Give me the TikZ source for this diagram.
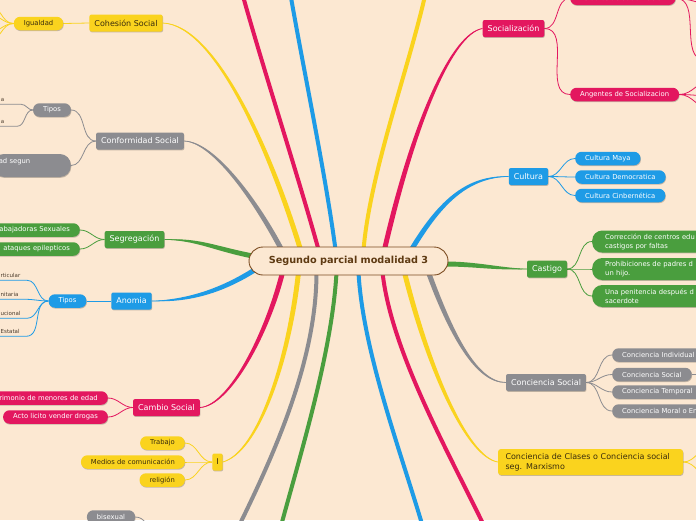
\documentclass[tikz,border=0pt]{standalone}
\usepackage{fontspec}
\setmainfont{DejaVu Sans}
\usetikzlibrary{calc,shadows}
\definecolor{papel}{HTML}{FCE8D2}
\definecolor{amarillo}{HTML}{FAD31E}
\definecolor{rosa}{HTML}{E3175F}
\definecolor{azul}{HTML}{1E9BE6}
\definecolor{verde}{HTML}{4A9E3E}
\definecolor{gris}{HTML}{8C8C90}
\definecolor{cafe}{HTML}{5E3A12}
\definecolor{borde}{HTML}{7C4C22}
\definecolor{oscuro}{HTML}{3A2D0C}
\definecolor{tinta}{HTML}{4A3B2C}
\pgfdeclarelayer{fondo}
\pgfsetlayers{fondo,main}
\tikzset{raiz/.style={draw=borde,line width=.9pt,fill=papel,text=cafe,rounded corners=14pt,
           minimum width=199pt,minimum height=28pt,font=\bfseries\fontsize{9.7}{11}\selectfont},
         sombra/.style={drop shadow={shadow xshift=.5pt,shadow yshift=-.9pt,opacity=.22,fill=black}},
         tema/.style={fill=#1,text=white,rounded corners=2pt,minimum height=17pt,inner xsep=5pt,
           inner ysep=0pt,font=\fontsize{8}{9.6}\selectfont,sombra},
         sub/.style={fill=#1,text=white,rounded corners=6.5pt,minimum height=13.5pt,inner xsep=10pt,
           inner ysep=0pt,font=\fontsize{6.8}{8.2}\selectfont,sombra},
         pena/.style={sub=verde,anchor=west,rounded corners=10pt,minimum height=22pt,text width=110pt,
           align=left,inner xsep=13pt,font=\fontsize{6.8}{9}\selectfont},
         nota/.style={text=tinta,inner xsep=.5pt,inner ysep=2.5pt,font=\fontsize{5.5}{6.6}\selectfont},
         enlace/.style={draw=#1,line width=.8pt},
         troncal/.style={draw=#1,line width=4pt}}
% rama ahusada: color, inicio, control 1 (rel.), control 2 (rel.), fin
\newcommand\rama[5]{%
  \coordinate (r1) at ($(#2)+(#3)$);
  \coordinate (r2) at ($(#5)+(#4)$);
  \fill[#1] ($(#2)!2.5pt!90:(r1)$) .. controls ($(r1)!2.5pt!90:(r2)$) and ($(r2)!1.8pt!90:(#5)$) .. (#5)
    .. controls ($(r2)!1.8pt!-90:(#5)$) and ($(r1)!2.5pt!-90:(r2)$) .. ($(#2)!2.5pt!-90:(r1)$) -- cycle;
  \draw[#1,line width=.8pt] (#2) .. controls (r1) and (r2) .. (#5);}

\begin{document}
\begin{tikzpicture}[x=1pt,y=-1pt]
  \useasboundingbox (0,0) rectangle (696,520);
  \node[raiz] (centro) at (348.5,261) {Segundo parcial modalidad 3};

  % izquierda
  \node[tema=amarillo,text=oscuro] (coh) at (126,23) {Cohesión Social};
  \node[sub=amarillo,text=oscuro] (igual) at (38.5,23.5) {Igualdad};
  \node[tema=gris] (conf) at (140,141) {Conformidad Social};
  \node[sub=gris] (tipos1) at (52,110) {Tipos};
  \node[nota,anchor=base west] (ga) at (0.3,101.5) {a};
  \node[nota,anchor=base west] (gb) at (0.3,123.5) {a};
  \node[sub=gris,anchor=east,rounded corners=11pt,minimum height=23pt,text width=66pt,align=left,
        inner xsep=6pt] (segun) at (71,165.5) {ad segun\\\mbox{}};
  \node[tema=verde] (seg) at (134.5,239.5) {Segregación};
  \node[sub=verde,anchor=east,text width=80pt,align=right] (trab) at (80,230) {abajadoras Sexuales};
  \node[sub=verde,anchor=east,text width=80pt,align=right] (epil) at (80,249) {ataques epilepticos};
  \node[tema=azul] (anomia) at (131.5,301) {Anomia};
  \node[sub=azul] (tipos2) at (67.5,301) {Tipos};
  \node[nota,anchor=base west] (pa) at (0,277.5) {rticular};
  \node[nota,anchor=base west] (pb) at (0,296.5) {nitaria};
  \node[nota,anchor=base west] (pc) at (0,315.5) {ucional};
  \node[nota,anchor=base west] (pd) at (0,333.5) {Estatal};
  \node[tema=rosa] (cambio) at (166.5,407.5) {Cambio Social};
  \node[sub=rosa,anchor=east,text width=110pt,align=right] (matri) at (108,398) {rimonio de menores de edad};
  \node[sub=rosa] (acto) at (55.5,417) {Acto licito vender drogas};
  \node[tema=amarillo,text=oscuro,inner xsep=4pt] (ii) at (217.5,462) {I};
  \node[sub=amarillo,text=oscuro,anchor=east] (trabajo) at (185,443) {Trabajo};
  \node[sub=amarillo,text=oscuro,anchor=east] (medios) at (185,462) {Medios de comunicación};
  \node[sub=amarillo,text=oscuro,anchor=east] (relig) at (185,480) {religión};
  \node[sub=gris] (bisex) at (111,517) {bisexual};

  % derecha
  \node[tema=rosa] (soc) at (513.5,28.5) {Socialización};
  \node[sub=rosa,anchor=west] (estad) at (570,-1.75) {Estadios de Socialización};
  \node[sub=rosa,anchor=west] (ang) at (570,94.5) {Angentes de Socializacion};
  \node[tema=azul] (cult) at (528.5,176.5) {Cultura};
  \node[sub=azul,anchor=west] (maya) at (575,158.5) {Cultura Maya};
  \node[sub=azul,anchor=west] (demo) at (575,177) {Cultura Democratica};
  \node[sub=azul,anchor=west] (ciber) at (575,195.5) {Cultura Cinbernética};
  \node[tema=verde] (castigo) at (547,269) {Castigo};
  \node[pena] (k1) at (592,241.5) {Corrección de centros edu\\castigos por faltas};
  \node[pena] (k2) at (592,269) {Prohibiciones de padres d\\un hijo.};
  \node[pena] (k3) at (592,296) {Una penitencia después d\\sacerdote};
  \node[tema=gris] (cs) at (546,382.5) {Conciencia Social};
  \node[sub=gris,anchor=west] (ci1) at (612,355) {Conciencia Individual};
  \node[sub=gris,anchor=west] (ci2) at (612,374.5) {Conciencia Social};
  \node[sub=gris,anchor=west] (ci3) at (612,392) {Conciencia Temporal};
  \node[sub=gris,anchor=west] (ci4) at (612,411) {Conciencia Moral o En};
  \node[tema=amarillo,text=oscuro,text width=170pt,align=left,inner xsep=7.5pt,minimum height=26pt,
        rounded corners=3pt] (clases) at (590.5,462) {Conciencia de Clases o Conciencia social\\seg. Marxismo};

  % salidas desde el centro y extremos fuera del cuadro
  \coordinate (sCoh) at ([xshift=-48pt,yshift=-3pt]centro.north);
  \coordinate (sConf) at ([xshift=-67pt,yshift=-3pt]centro.north);
  \coordinate (sSeg) at ([xshift=4pt,yshift=5pt]centro.west);
  \coordinate (sAno) at ([xshift=6pt,yshift=-9pt]centro.west);
  \coordinate (sCam) at ([xshift=-66pt,yshift=3pt]centro.south);
  \coordinate (sI) at ([xshift=-50pt,yshift=3pt]centro.south);
  \coordinate (sSoc) at ([xshift=36pt,yshift=-3pt]centro.north);
  \coordinate (sCul) at ([xshift=63pt,yshift=-3pt]centro.north);
  \coordinate (sCas) at ([xshift=-3pt,yshift=-3pt]centro.east);
  \coordinate (sCS) at ([xshift=80pt,yshift=3pt]centro.south);
  \coordinate (sCC) at ([xshift=56pt,yshift=3pt]centro.south);
  \coordinate (tRosaN) at ([xshift=-30pt,yshift=-3pt]centro.north);
  \coordinate (tAzulN) at ([xshift=-13pt,yshift=-3pt]centro.north);
  \coordinate (tAmaN) at ([xshift=15pt,yshift=-3pt]centro.north);
  \coordinate (tGrisS) at ([xshift=-32pt,yshift=3pt]centro.south);
  \coordinate (tVerdeS) at ([xshift=-12pt,yshift=3pt]centro.south);
  \coordinate (tAzulS) at ([xshift=10pt,yshift=3pt]centro.south);
  \coordinate (tRosaS) at ([xshift=34pt,yshift=3pt]centro.south);
  \coordinate (fRosaN) at (232,-45);
  \coordinate (fAzulN) at (284,-45);
  \coordinate (fAmaN) at (432,-40);
  \coordinate (fGrisS) at (222,560);
  \coordinate (fVerdeS) at (272,560);
  \coordinate (fAzulS) at (432,560);
  \coordinate (fRosaS) at (500,560);
  \coordinate (ig1) at (-12,4);
  \coordinate (ig2) at (-12,14);
  \coordinate (ig3) at (-12,33);
  \coordinate (ig4) at (-12,42);
  \coordinate (bx) at (150,535);
  \coordinate (es1) at (712,4);
  \coordinate (es2) at (705,60);
  \coordinate (an1) at (712,80);
  \coordinate (an2) at (712,96);
  \coordinate (an3) at (712,110);
  \coordinate (cs2r) at (712,374.5);
  \coordinate (cl1) at (712,446);
  \coordinate (cl2) at (712,478);

  \begin{pgfonlayer}{fondo}
    \fill[papel] (0,0) rectangle (696,520);
    % ramas principales
    \rama{amarillo}{sCoh}{-30,-98}{53,2}{coh.east}
    \rama{gris}{sConf}{-23,-44}{31,1}{conf.east}
    \rama{verde}{sSeg}{-40,-8}{35,0}{seg.east}
    \rama{azul}{sAno}{-35,22}{35,0}{anomia.east}
    \rama{rosa}{sCam}{-15,60}{30,-2}{cambio.east}
    \rama{amarillo}{sI}{-10,90}{35,-10}{ii.east}
    \rama{rosa}{sSoc}{30,-130}{-30,5}{soc.west}
    \rama{azul}{sCul}{30,-50}{-40,0}{cult.west}
    \rama{verde}{sCas}{30,0}{-30,0}{castigo.west}
    \rama{gris}{sCS}{22,60}{-30,0}{cs.west}
    \rama{amarillo}{sCC}{25,100}{-30,-5}{clases.west}
    \draw[troncal=rosa] (tRosaN) .. controls +(-25,-90) and +(20,80) .. (fRosaN);
    \draw[troncal=azul] (tAzulN) .. controls +(-12,-90) and +(12,80) .. (fAzulN);
    \draw[troncal=amarillo] (tAmaN) .. controls +(8,-90) and +(-12,80) .. (fAmaN);
    \draw[troncal=gris] (tGrisS) .. controls +(0,100) and +(40,-80) .. (fGrisS);
    \draw[troncal=verde] (tVerdeS) .. controls +(-5,90) and +(20,-80) .. (fVerdeS);
    \draw[troncal=azul] (tAzulS) .. controls +(5,90) and +(-20,-80) .. (fAzulS);
    \draw[troncal=rosa] (tRosaS) .. controls +(10,90) and +(-35,-80) .. (fRosaS);
    % enlaces
    \draw[enlace=amarillo] (coh.west) -- (igual.east);
    \foreach \c in {ig1,ig2,ig3,ig4} \draw[enlace=amarillo] (igual.west) to[out=180,in=0] (\c);
    \draw[enlace=gris] (conf.west) to[out=180,in=0] (tipos1.east);
    \draw[enlace=gris] (conf.west) to[out=180,in=0] (segun.east);
    \foreach \t/\d in {ga/16,gb/12}
      \draw[enlace=gris] (tipos1.west) to[out=180,in=0] ([xshift=\d pt]\t.south east) -- ([xshift=-6pt]\t.south west);
    \draw[enlace=verde] (seg.west) to[out=180,in=0] (trab.east);
    \draw[enlace=verde] (seg.west) to[out=180,in=0] (epil.east);
    \draw[enlace=azul] (anomia.west) -- (tipos2.east);
    \foreach \t in {pa,pb,pc,pd}
      \draw[enlace=azul] (tipos2.west) to[out=180,in=0] ([xshift=6pt]\t.south east) -- ([xshift=-6pt]\t.south west);
    \draw[enlace=rosa] (cambio.west) to[out=180,in=0] (matri.east);
    \draw[enlace=rosa] (cambio.west) to[out=180,in=0] (acto.east);
    \foreach \h in {trabajo,medios,relig} \draw[enlace=amarillo] (ii.west) to[out=180,in=0] (\h.east);
    \draw[enlace=gris] (bisex.east) to[out=0,in=100] (bx);
    \draw[enlace=rosa] (soc.east) to[out=0,in=180] (estad.west);
    \draw[enlace=rosa] (soc.east) to[out=0,in=180] (ang.west);
    \foreach \c in {es1,es2} \draw[enlace=rosa] (estad.east) to[out=0,in=180] (\c);
    \foreach \c in {an1,an2,an3} \draw[enlace=rosa] (ang.east) to[out=0,in=180] (\c);
    \foreach \h in {maya,demo,ciber} \draw[enlace=azul] (cult.east) to[out=0,in=180] (\h.west);
    \foreach \h in {k1,k2,k3} \draw[enlace=verde] (castigo.east) to[out=0,in=180] (\h.west);
    \foreach \h in {ci1,ci2,ci3,ci4} \draw[enlace=gris] (cs.east) to[out=0,in=180] (\h.west);
    \draw[enlace=gris] (ci2.east) -- (cs2r);
    \foreach \c in {cl1,cl2} \draw[enlace=amarillo] (clases.east) to[out=0,in=180] (\c);
  \end{pgfonlayer}
\end{tikzpicture}
\end{document}
